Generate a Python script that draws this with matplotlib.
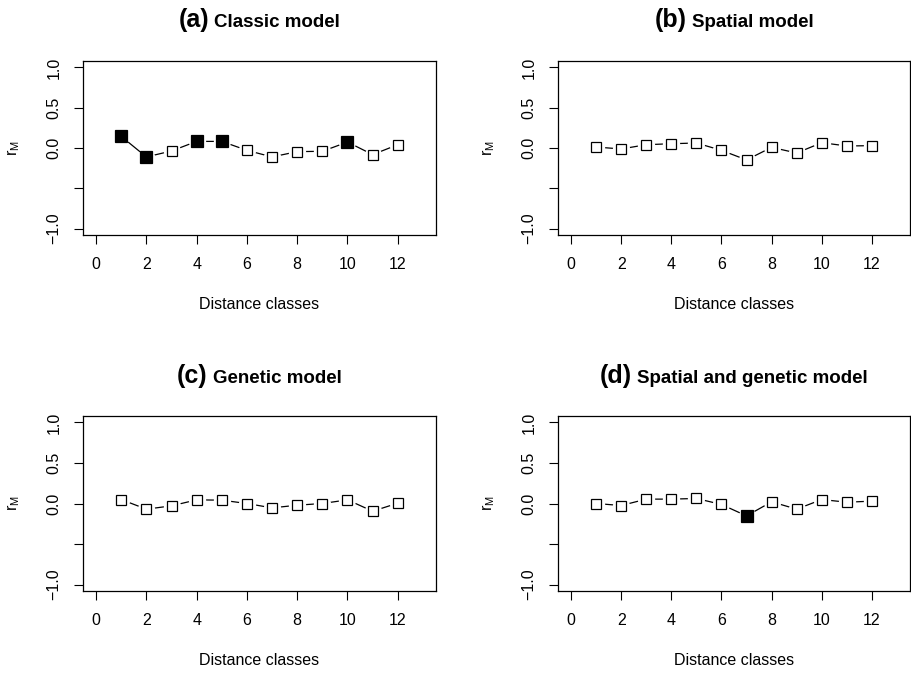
import numpy as np
import matplotlib
matplotlib.use("Agg")
import matplotlib.pyplot as plt

plt.rcParams['font.family'] = ['Liberation Sans', 'DejaVu Sans']

# Mantel correlogram data
dist_classes = [1, 2, 3, 4, 5, 6, 7, 8, 9, 10, 11, 12]

rm_classic = [0.144, -0.111, -0.037, 0.082, 0.082, -0.029, -0.111, -0.045, -0.041, 0.074, -0.082, 0.041]
sig_classic = [1, 1, 0, 1, 1, 0, 0, 0, 0, 1, 0, 0]

rm_spatial = [0.012, -0.012, 0.041, 0.053, 0.062, -0.029, -0.148, 0.008, -0.062, 0.066, 0.025, 0.029]
sig_spatial = [0, 0, 0, 0, 0, 0, 0, 0, 0, 0, 0, 0]

rm_genetic = [0.049, -0.070, -0.029, 0.045, 0.041, 0.0, -0.054, -0.021, 0.0, 0.045, -0.095, 0.004]
sig_genetic = [0, 0, 0, 0, 0, 0, 0, 0, 0, 0, 0, 0]

rm_both = [0.0, -0.025, 0.054, 0.054, 0.062, -0.012, -0.153, 0.021, -0.070, 0.049, 0.016, 0.029]
sig_both = [0, 0, 0, 0, 0, 0, 1, 0, 0, 0, 0, 0]

panel_tags = ['(a)', '(b)', '(c)', '(d)']
panel_titles = ['Classic model', 'Spatial model', 'Genetic model', 'Spatial and genetic model']
series = [(rm_classic, sig_classic), (rm_spatial, sig_spatial),
          (rm_genetic, sig_genetic), (rm_both, sig_both)]

x_ticks = [0, 2, 4, 6, 8, 10, 12]
y_ticks = [-1.0, -0.5, 0.0, 0.5, 1.0]
y_ticklabels = ['\u22121.0', '', '0.0', '0.5', '1.0']

W, H = 911, 673
fig = plt.figure(figsize=(W / 100, H / 100), dpi=100)

# axes boxes in pixels: left, top, right, bottom
boxes = [(83, 61, 436, 235), (558, 61, 910, 235),
         (83, 416, 436, 591), (558, 416, 910, 591)]
title_base = [27, 27, 383, 383]
xlab_base = [309, 309, 665, 665]
ylab_x = [14, 489, 14, 489]

renderer = fig.canvas.get_renderer()

for i, ax_box in enumerate(boxes):
    l, t, r, b = ax_box
    ax = fig.add_axes([l / W, 1 - b / H, (r - l) / W, (b - t) / H])
    vals, sig = series[i]
    x = np.array(dist_classes)
    y = np.array(vals)
    s = np.array(sig, dtype=bool)

    ax.plot(x, y, color='black', lw=0.9, zorder=1)
    # gaps around points, like R type="b"
    ax.plot(x, y, ls='none', marker='o', ms=12.5, mfc='white', mec='none', zorder=2)
    ax.plot(x[~s], y[~s], ls='none', marker='s', ms=7.5, mfc='white', mec='black', mew=0.9, zorder=3)
    ax.plot(x[s], y[s], ls='none', marker='s', ms=8, mfc='black', mec='black', mew=0.9, zorder=3)

    ax.set_xlim(-0.52, 13.52)
    ax.set_ylim(-1.08, 1.08)
    ax.set_xticks(x_ticks)
    ax.set_yticks(y_ticks)
    ax.set_yticklabels(y_ticklabels, rotation=90, va='center')
    ax.tick_params(axis='both', direction='out', length=6.5, width=0.8, labelsize=11.5)
    ax.tick_params(axis='x', pad=9)
    ax.tick_params(axis='y', pad=9)
    for sp in ax.spines.values():
        sp.set_linewidth(0.9)

    cx = (l + r) / 2
    fig.text(cx / W, 1 - xlab_base[i] / H, 'Distance classes', ha='center', va='baseline', fontsize=11.5)
    fig.text(ylab_x[i] / W, 1 - ((t + b) / 2) / H, r'$\mathregular{r_M}$', rotation=90,
             ha='center', va='center', fontsize=11.5)

    # two-part title, centred over the axes
    yb = 1 - title_base[i] / H
    t1 = fig.text(0, yb, panel_tags[i], ha='left', va='baseline', fontsize=18, fontweight='bold')
    t2 = fig.text(0, yb, panel_titles[i], ha='left', va='baseline', fontsize=13.5, fontweight='bold')
    w1 = t1.get_window_extent(renderer).width
    w2 = t2.get_window_extent(renderer).width
    gap = 5
    x0 = cx - (w1 + gap + w2) / 2
    t1.set_x(x0 / W)
    t2.set_x((x0 + w1 + gap) / W)

fig.savefig('out.png', dpi=100)
